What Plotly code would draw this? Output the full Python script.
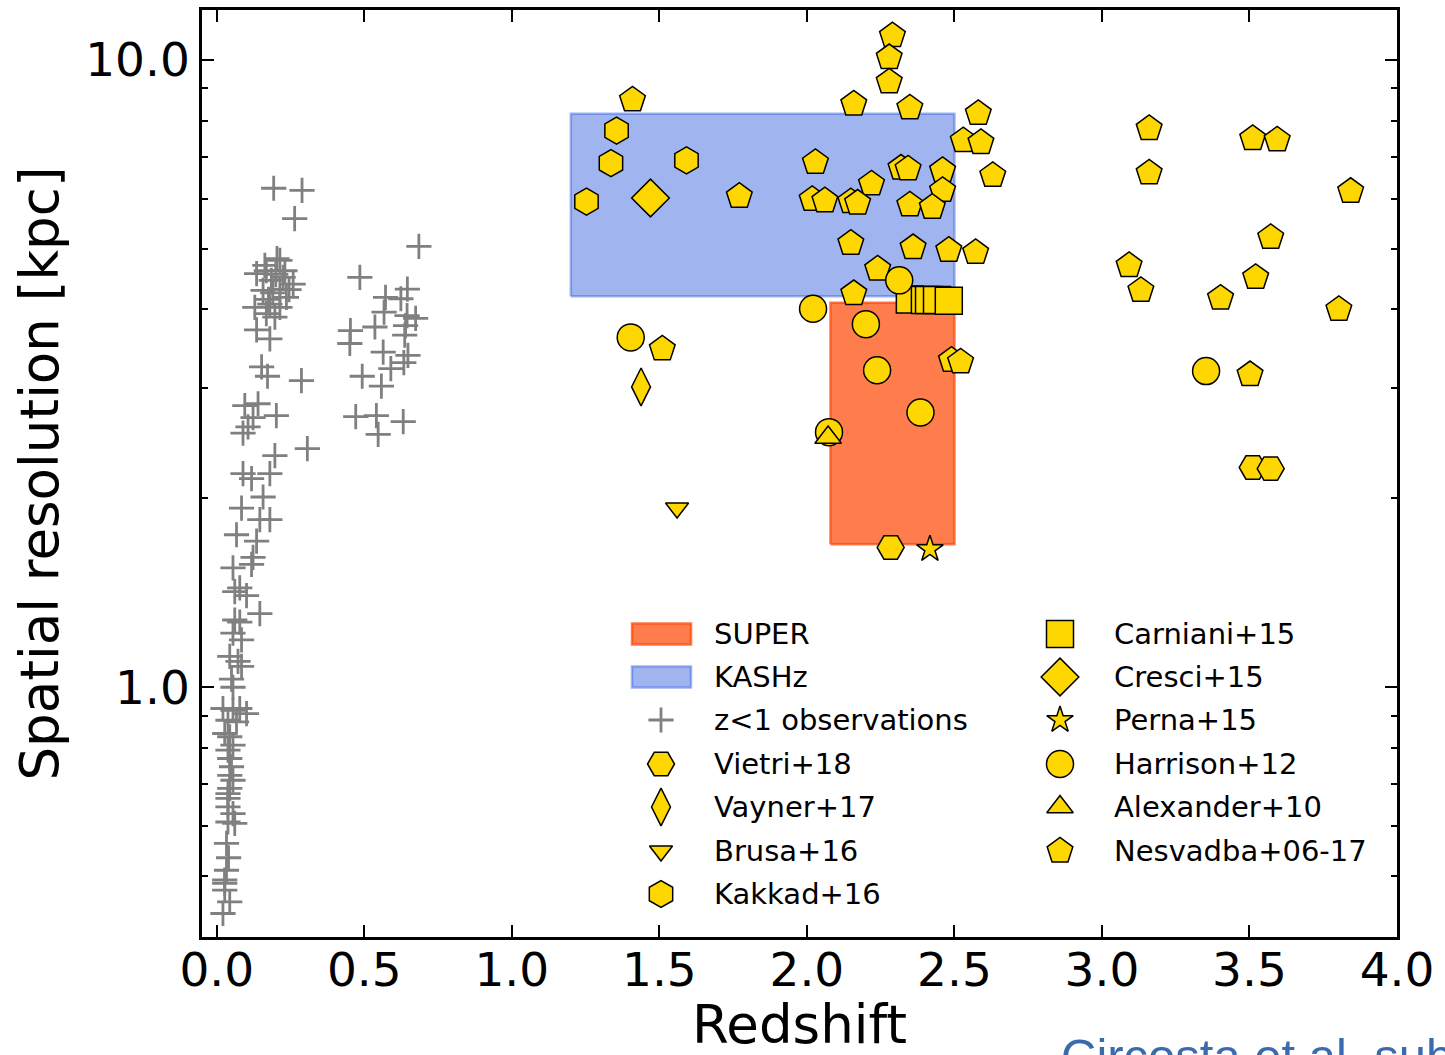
import math
import plotly.graph_objects as go

# ---------------- data ----------------
super_z = [2.08, 2.50]
super_res = [1.69, 4.10]
kashz_z = [1.20, 2.50]
kashz_res = [4.20, 8.20]

lowz_z = [0.193, 0.289, 0.264,
          0.204, 0.163, 0.214, 0.135, 0.168, 0.231, 0.185, 0.259, 0.214, 0.157,
          0.236, 0.129, 0.180, 0.214, 0.168, 0.197, 0.135, 0.180, 0.190, 0.225,
          0.175, 0.245, 0.200,
          0.152, 0.172, 0.287, 0.095, 0.140, 0.202, 0.123, 0.106, 0.089, 0.197, 0.307,
          0.685, 0.485, 0.646, 0.572, 0.624, 0.567, 0.645, 0.674, 0.536, 0.453,
          0.640, 0.637, 0.451, 0.564, 0.648, 0.590, 0.634, 0.493, 0.558, 0.471,
          0.541, 0.632, 0.547,
          0.089, 0.118, 0.180, 0.157, 0.084, 0.146, 0.180, 0.067, 0.135, 0.123,
          0.118, 0.055, 0.078, 0.061, 0.101, 0.146, 0.061, 0.078, 0.055, 0.084,
          0.044, 0.072, 0.084, 0.050, 0.055, 0.021, 0.055, 0.078, 0.101, 0.038,
          0.067, 0.027, 0.044, 0.055, 0.038, 0.044, 0.050, 0.044, 0.055, 0.044,
          0.038, 0.038, 0.038, 0.055, 0.038, 0.061, 0.033, 0.040, 0.033, 0.027,
          0.027, 0.027, 0.044, 0.021]
lowz_res = [6.24, 6.19, 5.58,
            4.82, 4.70, 4.79, 4.56, 4.61, 4.61, 4.45, 4.39, 4.31, 4.29,
            4.18, 4.03, 4.08, 4.03, 3.94, 3.89, 3.71, 3.59, 4.25, 4.50,
            4.15, 4.30, 4.55,
            3.24, 3.13, 3.08, 2.81, 2.83, 2.71, 2.69, 2.60, 2.54, 2.34, 2.40,
            5.04, 4.50, 4.31, 4.18, 4.16, 3.96, 3.91, 3.87, 3.75, 3.70,
            3.77, 3.64, 3.53, 3.42, 3.38, 3.22, 3.29, 3.13, 3.02, 2.70,
            2.71, 2.65, 2.53,
            2.19, 2.15, 2.19, 2.01, 1.93, 1.85, 1.85, 1.75, 1.71, 1.61,
            1.57, 1.55, 1.44, 1.42, 1.40, 1.31, 1.28, 1.27, 1.22, 1.19,
            1.12, 1.10, 1.08, 1.03, 1.00, 0.925, 0.919, 0.925, 0.908, 0.886,
            0.881, 0.844, 0.834, 0.809, 0.794, 0.770, 0.747, 0.724, 0.711, 0.690,
            0.677, 0.665, 0.645, 0.629, 0.610, 0.607, 0.564, 0.535, 0.511, 0.493,
            0.487, 0.475, 0.455, 0.436]

vietri_z = [2.284, 3.511, 3.572]
vietri_res = [1.67, 2.24, 2.23]
vayner_z = [1.438]
vayner_res = [3.01]
brusa_z = [1.560]
brusa_res = [1.93]
kakkad_z = [1.355, 1.336, 1.592, 1.253]
kakkad_res = [7.71, 6.84, 6.91, 5.94]
carniani_z = [2.349, 2.400, 2.414, 2.441, 2.481]
carniani_res = [4.15, 4.14, 4.14, 4.14, 4.13]
cresci_z = [1.470]
cresci_res = [6.02]
perna_z = [2.417]
perna_res = [1.66]
harrison_z = [2.313, 2.021, 2.200, 2.238, 2.385, 2.075, 1.403, 3.353]
harrison_res = [4.45, 4.01, 3.79, 3.20, 2.74, 2.55, 3.61, 3.19]
alexander_z = [2.072]
alexander_res = [2.50]
nesvadba_z = [1.409, 2.290, 2.279, 2.279, 2.159, 2.349, 2.581, 2.530, 2.590,
              2.630, 1.771, 2.029, 2.319, 2.343, 2.460, 2.219, 2.460, 2.018,
              2.061, 2.149, 2.172, 2.349, 2.425, 2.149, 2.360, 2.481, 2.572,
              2.240, 2.159, 1.510, 2.490, 2.521, 3.160, 3.511, 3.594, 3.160,
              3.843, 3.572, 3.092, 3.132, 3.521, 3.402, 3.803, 3.502]
nesvadba_res = [8.63, 10.92, 10.08, 9.22, 8.50, 8.38, 8.21, 7.43, 7.38,
                6.54, 6.06, 6.86, 6.72, 6.70, 6.66, 6.34, 6.19, 5.99,
                5.96, 5.94, 5.91, 5.87, 5.82, 5.10, 5.02, 4.97, 4.93,
                4.64, 4.24, 3.46, 3.32, 3.30, 7.77, 7.49, 7.45, 6.60,
                6.17, 5.21, 4.70, 4.29, 4.50, 4.17, 4.00, 3.15]

x_ticks = [0.0, 0.5, 1.0, 1.5, 2.0, 2.5, 3.0, 3.5, 4.0]
y_ticks = [1.0, 10.0]
y_minor = [0.4, 0.5, 0.6, 0.7, 0.8, 0.9, 2, 3, 4, 5, 6, 7, 8, 9]

# ---------------- styling ----------------
GOLD = '#FFD700'
FONT = 'DejaVu Sans'
W, H = 1445, 1055
L, R, T, B = 202, 48, 10, 118  # margins in px

fig = go.Figure()


def rect(zs, rs):
    return ([zs[0], zs[1], zs[1], zs[0], zs[0]],
            [rs[0], rs[0], rs[1], rs[1], rs[0]])


kx, ky = rect(kashz_z, kashz_res)
fig.add_trace(go.Scatter(x=kx, y=ky, mode='lines', fill='toself', name='KASHz',
                         fillcolor='rgba(65,105,225,0.5)',
                         line=dict(color='rgba(65,105,225,0.5)', width=2.5),
                         hoverinfo='skip'))
sx, sy = rect(super_z, super_res)
fig.add_trace(go.Scatter(x=sx, y=sy, mode='lines', fill='toself', name='SUPER',
                         fillcolor='rgba(255,69,0,0.7)',
                         line=dict(color='rgba(255,69,0,0.7)', width=2.5),
                         hoverinfo='skip'))

cross_marker = dict(symbol='cross-thin', size=18, color='gray',
                    line=dict(color='gray', width=2.8))
fig.add_trace(go.Scatter(x=lowz_z, y=lowz_res, mode='markers',
                         name='z<1 observations', marker=cross_marker))

studies = [
    ('Nesvadba+06-17', nesvadba_z, nesvadba_res, 'pentagon', 27),
    ('Vietri+18', vietri_z, vietri_res, 'hexagon2', 27),
    ('Vayner+17', vayner_z, vayner_res, 'diamond-tall', 27),
    ('Brusa+16', brusa_z, brusa_res, 'triangle-down', 20),
    ('Kakkad+16', kakkad_z, kakkad_res, 'hexagon', 27),
    ('Carniani+15', carniani_z, carniani_res, 'square', 27),
    ('Cresci+15', cresci_z, cresci_res, 'diamond', 29),
    ('Perna+15', perna_z, perna_res, 'star', 20),
    ('Harrison+12', harrison_z, harrison_res, 'circle', 27),
    ('Alexander+10', alexander_z, alexander_res, 'triangle-up', 23),
]
style = {}
for name, zz, rr, sym, size in studies:
    style[name] = (sym, size)
    fig.add_trace(go.Scatter(x=zz, y=rr, mode='markers', name=name,
                             marker=dict(symbol=sym, size=size, color=GOLD,
                                         line=dict(color='black', width=1.5))))

# ---------------- hand-built two-column legend ----------------
pw, ph = W - L - R, H - T - B


def fx(px):
    return (px - L) / pw


def fy(py):
    return (H - B - py) / ph


rows = [634, 677, 720, 764, 807, 851, 894]
left_col = ['SUPER', 'KASHz', 'z<1 observations', 'Vietri+18', 'Vayner+17',
            'Brusa+16', 'Kakkad+16']
right_col = ['Carniani+15', 'Cresci+15', 'Perna+15', 'Harrison+12',
             'Alexander+10', 'Nesvadba+06-17']
cols = [(left_col, 661, 712), (right_col, 1060, 1112)]

patch_styles = {'SUPER': ('rgba(255,69,0,0.7)', 'rgba(255,69,0,0.7)'),
                'KASHz': ('rgba(65,105,225,0.5)', 'rgba(65,105,225,0.5)')}

annotations = []
shapes = []
for labels, mx, tx in cols:
    for lab, py in zip(labels, rows):
        annotations.append(dict(text=lab, x=fx(tx), y=fy(py), xref='paper',
                                yref='paper', xanchor='left', yanchor='middle',
                                showarrow=False,
                                font=dict(family=FONT, size=29, color='black')))
        if lab in patch_styles:
            fc, lc = patch_styles[lab]
            shapes.append(dict(type='rect', xref='paper', yref='paper',
                               x0=fx(632), x1=fx(691), y0=fy(py + 10.5),
                               y1=fy(py - 10.5), fillcolor=fc,
                               line=dict(color=lc, width=2.5), layer='above'))
        elif lab == 'z<1 observations':
            fig.add_trace(go.Scatter(x=[fx(mx)], y=[fy(py)], xaxis='x2',
                                     yaxis='y2', mode='markers',
                                     marker=cross_marker, hoverinfo='skip',
                                     showlegend=False))
        else:
            sym, size = style[lab]
            fig.add_trace(go.Scatter(x=[fx(mx)], y=[fy(py)], xaxis='x2',
                                     yaxis='y2', mode='markers',
                                     marker=dict(symbol=sym, size=size,
                                                 color=GOLD,
                                                 line=dict(color='black',
                                                           width=1.5)),
                                     hoverinfo='skip', showlegend=False))

annotations.append(dict(text='Circosta et al. submitted', x=fx(1059),
                        y=fy(1027), xref='paper', yref='paper',
                        xanchor='left', yanchor='top', showarrow=False,
                        font=dict(family='Liberation Sans', size=49,
                                  color='#3A6BAE')))

axis_common = dict(showline=True, linewidth=2.5, linecolor='black',
                   mirror='allticks', ticks='inside', ticklen=12,
                   tickwidth=1.5, tickcolor='black', showgrid=False,
                   zeroline=False, automargin=False,
                   tickfont=dict(family=FONT, size=47, color='black'))

fig.update_layout(
    width=W, height=H,
    margin=dict(l=L, r=R, t=T, b=B),
    paper_bgcolor='white', plot_bgcolor='white',
    showlegend=False,
    font=dict(family=FONT, color='black'),
    xaxis=dict(range=[-0.05, 4.0], tickmode='array', tickvals=x_ticks,
               ticktext=['%.1f' % v for v in x_ticks],
               ticklabelstandoff=-10,
               title=dict(text='Redshift',
                          font=dict(family=FONT, size=53, color='black'),
                          standoff=32),
               **axis_common),
    yaxis=dict(type='log', range=[math.log10(0.4), math.log10(12)],
               tickmode='array', tickvals=y_ticks,
               ticktext=['%.1f' % v for v in y_ticks],
               minor=dict(tickmode='array', tickvals=y_minor, ticks='inside',
                          ticklen=6, tickwidth=1.5, tickcolor='black'),
               title=dict(text='Spatial resolution [kpc]',
                          font=dict(family=FONT, size=53, color='black'),
                          standoff=10),
               **axis_common),
    xaxis2=dict(overlaying='x', anchor='y2', range=[0, 1], visible=False),
    yaxis2=dict(overlaying='y', anchor='x2', range=[0, 1], visible=False),
    annotations=annotations,
    shapes=shapes,
)

fig.write_html('out.html', config={'displayModeBar': False},
               post_script="document.body.style.margin='0';"
                           "document.body.style.overflow='hidden';")
